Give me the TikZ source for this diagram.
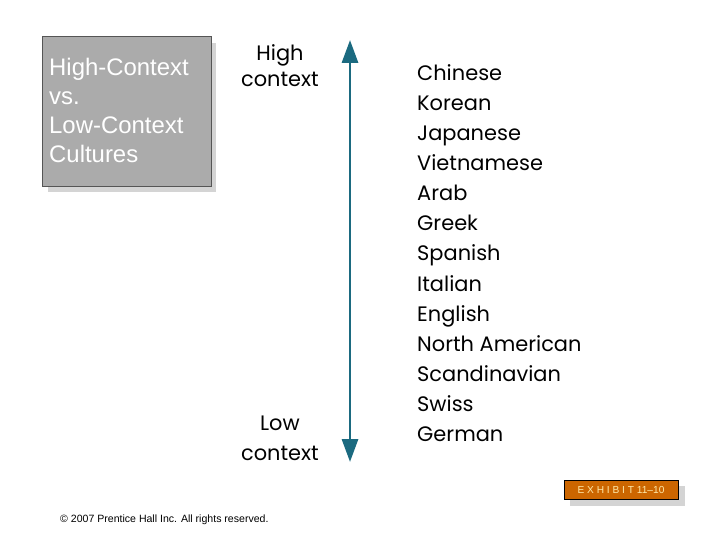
\documentclass[tikz,border=0pt]{standalone}
\usepackage{fontspec}
\setmainfont{Liberation Sans}
\newfontfamily\geo{Poppins}
\usetikzlibrary{arrows.meta}
\definecolor{boxgrey}{HTML}{ABABAB}
\definecolor{boxedge}{HTML}{555555}
\definecolor{shadowgrey}{HTML}{D4D4D4}
\definecolor{teal}{HTML}{1B6A80}
\definecolor{exorange}{HTML}{CC6600}
\definecolor{exyellow}{HTML}{FFE9A8}
\tikzset{
  culture/.style={anchor=base west, inner sep=0pt, font=\geo\fontsize{21}{21}\selectfont},
  axislabel/.style={anchor=base, inner sep=0pt, font=\geo\fontsize{21}{21}\selectfont},
  titletext/.style={anchor=north west, inner sep=0pt, text=white, align=left,
    font=\fontsize{24}{29}\selectfont},
}
\begin{document}
\begin{tikzpicture}[x=1bp,y=-1bp]
\useasboundingbox (0,0) rectangle (720,540);
% title box
\fill[shadowgrey] (48,43) rectangle (216,192);
\draw[boxedge, fill=boxgrey, line width=1pt] (42.5,37) rectangle (211,186.5);
\node[titletext] (title) at (49,58) {High-Context\\vs.\\Low-Context\\Cultures};
% axis
\coordinate (top) at (350,40);
\coordinate (bot) at (350,462);
\draw[teal, line width=3pt, {Triangle[length=23bp,width=16bp]}-{Triangle[length=23bp,width=16bp]}] (top) -- (bot);
\node[axislabel] (high) at (280,61) {High};
\node[axislabel] (hictx) at (280,87) {context};
\node[axislabel] (low) at (280,430) {Low};
\node[axislabel] (lowctx) at (280,460) {context};
% cultures
\foreach \name [count=\i from 0] in {Chinese,Korean,Japanese,Vietnamese,Arab,Greek,Spanish,Italian,English,North American,Scandinavian,Swiss,German}{
  \node[culture] (c\i) at (417,{81+30*\i}) {\name};
}
% exhibit tag
\fill[shadowgrey] (570,486) rectangle (685,505.5);
\draw[black, fill=exorange, line width=0.8pt] (564.5,480.5) rectangle (678,499);
\node[text=exyellow, inner sep=0pt, font=\fontsize{10.2}{11}\selectfont] (exh) at (621,489.8) {E X H I B I T 11--10};
% copyright
\node[anchor=base west, inner sep=0pt, font=\fontsize{10.6}{11}\selectfont] (copy) at (60,522) {\textcopyright{} 2007 Prentice Hall Inc. All rights reserved.};
\end{tikzpicture}
\end{document}
